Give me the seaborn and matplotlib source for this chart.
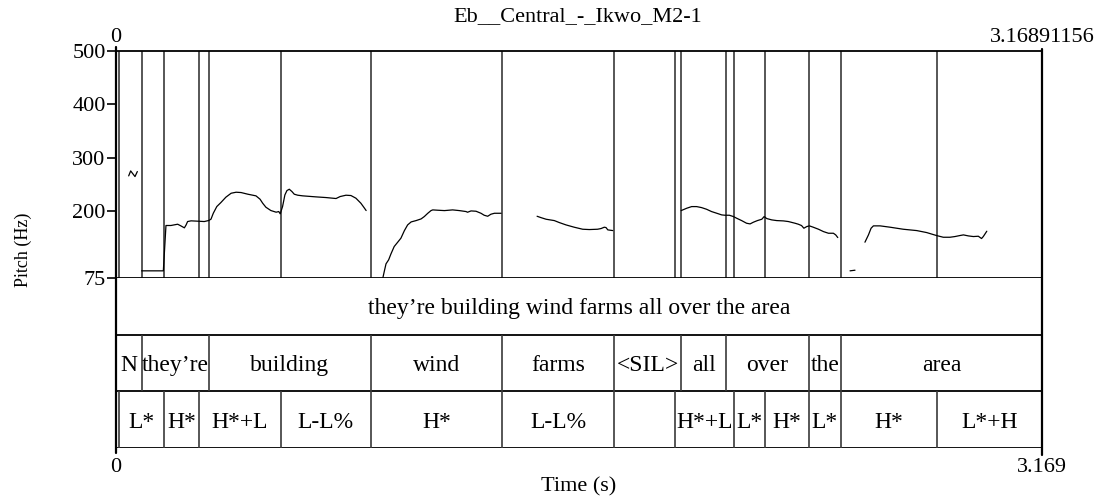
import numpy as np
import pandas as pd
import matplotlib
matplotlib.use("Agg")
import matplotlib.pyplot as plt
from matplotlib.lines import Line2D
import seaborn as sns

# ---- recording / annotation data -------------------------------------------
TITLE = "Eb__Central_-_Ikwo_M2-1"
DURATION = 3.16891156
F0_MIN, F0_MAX = 75, 500
F0_TICKS = [75, 200, 300, 400, 500]

SENTENCE = "they’re building wind farms all over the area"

word_bounds = [0.0, 0.0880, 0.3193, 0.8716, 1.3220, 1.7056, 1.9349,
               2.0862, 2.3712, 2.4807, DURATION]
word_labels = ["N", "they’re", "building", "wind", "farms", "<SIL>",
               "all", "over", "the", "area"]

tone_bounds = [0.0, 0.0113, 0.1653, 0.2840, 0.5636, 0.8716, 1.3220, 1.7056,
               1.9127, 2.1149, 2.2224, 2.3712, 2.4807, 2.8079, DURATION]
tone_labels = ["", "L*", "H*", "H*+L", "L-L%", "H*", "L-L%", "",
               "H*+L", "L*", "H*", "L*", "H*", "L*+H"]

# pitch contour, one voiced stretch per list (time in s, F0 in Hz)
blip_t = [0.0434, 0.0502, 0.0650, 0.0730]
blip_hz = [266.2, 275.5, 264.9, 274.3]

building_t = [0.0878, 0.162, 0.171, 0.188, 0.211, 0.222, 0.234, 0.240, 0.245,
              0.257, 0.279, 0.302, 0.317, 0.325, 0.333, 0.345, 0.359, 0.376,
              0.394, 0.411, 0.428, 0.451, 0.479, 0.493, 0.502, 0.513, 0.530,
              0.548, 0.557, 0.562, 0.570, 0.578, 0.585, 0.593, 0.602, 0.610,
              0.622, 0.639, 0.684, 0.719, 0.753, 0.767, 0.787, 0.804, 0.821,
              0.838, 0.848, 0.856]
building_hz = [88.4, 88.4, 173.3, 173.3, 175.7, 172.6, 168.9, 174.5, 180.7,
               182.0, 181.4, 180.7, 182.6, 185.1, 196.3, 208.8, 216.3, 226.3,
               233.7, 235.6, 235.0, 231.9, 228.8, 222.5, 215.0, 207.5, 201.3,
               198.2, 199.4, 195.1, 208.8, 230.6, 238.7, 241.2, 236.9, 231.9,
               230.0, 228.8, 226.9, 225.6, 223.8, 227.5, 230.0, 229.4, 224.4,
               215.0, 207.5, 201.3]

wind_t = [0.913, 0.918, 0.924, 0.933, 0.941, 0.952, 0.964, 0.975, 0.987,
          0.998, 1.010, 1.027, 1.044, 1.055, 1.067, 1.078, 1.084, 1.101,
          1.124, 1.152, 1.175, 1.198, 1.203, 1.215, 1.232, 1.249, 1.260,
          1.272, 1.283, 1.295, 1.318]
wind_hz = [74.6, 87.1, 101.5, 109.0, 120.2, 133.9, 142.0, 149.5, 163.8,
           174.4, 180.0, 182.5, 185.6, 190.0, 196.2, 201.2, 202.5, 201.9,
           201.2, 202.5, 201.2, 199.4, 198.1, 200.6, 200.0, 196.2, 192.5,
           190.6, 194.4, 196.2, 196.2]

farms_t = [1.441, 1.454, 1.472, 1.500, 1.517, 1.540, 1.568, 1.597, 1.620,
           1.648, 1.660, 1.671, 1.677, 1.683, 1.700]
farms_hz = [190.6, 188.1, 185.0, 182.5, 178.8, 174.4, 170.1, 166.3, 165.7,
            166.3, 167.6, 170.1, 169.4, 165.1, 163.8]

all_over_t = [1.934, 1.953, 1.970, 1.987, 2.004, 2.021, 2.038, 2.056, 2.073,
              2.084, 2.099, 2.113, 2.124, 2.141, 2.158, 2.170, 2.181, 2.195,
              2.210, 2.218, 2.227, 2.244, 2.261, 2.284, 2.301, 2.324, 2.335,
              2.346, 2.354, 2.364, 2.373, 2.386, 2.404, 2.421, 2.438, 2.455,
              2.463, 2.470]
all_over_hz = [201.2, 205.6, 208.7, 208.7, 206.8, 203.7, 199.4, 196.2, 193.1,
               192.5, 192.5, 190.0, 186.9, 182.5, 177.5, 176.3, 179.4, 182.5,
               185.0, 190.0, 186.3, 183.8, 182.5, 181.9, 180.7, 177.5, 175.7,
               173.2, 168.2, 171.3, 172.6, 170.1, 166.3, 161.9, 158.8, 158.8,
               155.7, 150.7]

creak_t = [2.512, 2.529]
creak_hz = [88.4, 89.6]

area_t = [2.563, 2.575, 2.584, 2.592, 2.615, 2.649, 2.694, 2.740, 2.774,
          2.808, 2.831, 2.854, 2.871, 2.888, 2.900, 2.917, 2.934, 2.951,
          2.962, 2.968, 2.980]
area_hz = [142.0, 155.7, 168.2, 172.6, 172.6, 170.1, 166.3, 163.8, 160.1,
           154.5, 151.3, 151.3, 152.6, 154.5, 155.7, 153.8, 152.6, 153.2,
           148.9, 152.6, 162.6]

segments = [(blip_t, blip_hz), (building_t, building_hz), (wind_t, wind_hz),
            (farms_t, farms_hz), (all_over_t, all_over_hz),
            (creak_t, creak_hz), (area_t, area_hz)]

# ---- styling -----------------------------------------------------------------
sns.set_theme(style="white")
plt.rcParams["font.family"] = ["Liberation Serif", "DejaVu Serif"]
FS = 16          # axis numbers, title, axis label
FS_TIER = 17     # tier annotations
INK = "black"
GRID_INK = "#3a3a3a"

W_PX, H_PX = 1113, 500
x0, x1 = 116, 1042          # frame left / right (px)
y_top, y_pitch, y_bot = 51, 278, 448

fig = plt.figure(figsize=(W_PX / 100, H_PX / 100), dpi=100)
L = x0 / W_PX
W = (x1 - x0) / W_PX
ax_p = fig.add_axes([L, 1 - y_pitch / H_PX, W, (y_pitch - y_top) / H_PX])
ax_t = fig.add_axes([L, 1 - y_bot / H_PX, W, (y_bot - y_pitch) / H_PX])

# ---- pitch panel -------------------------------------------------------------
df = pd.concat(
    [pd.DataFrame({"time": t, "pitch": hz, "seg": i})
     for i, (t, hz) in enumerate(segments)],
    ignore_index=True)
sns.lineplot(data=df, x="time", y="pitch", units="seg", estimator=None,
             sort=False, color=INK, lw=0.9, ax=ax_p, legend=False)

all_bounds = sorted(set(word_bounds[1:-1]) | set(tone_bounds[1:-1]))
ax_p.vlines(all_bounds, F0_MIN, F0_MAX, color=GRID_INK, lw=1.2, zorder=1)

ax_p.set_xlim(0, DURATION)
ax_p.set_ylim(F0_MIN, F0_MAX)
ax_p.set_yticks(F0_TICKS)
ax_p.set_yticklabels([str(v) for v in F0_TICKS])
ax_p.tick_params(axis="y", left=True, direction="out", length=6.5, width=1.2,
                 color=INK, pad=1, labelsize=FS, labelcolor=INK)
ax_p.set_xticks([0, DURATION])
ax_p.set_xticklabels(["0", "3.16891156"])
ax_p.tick_params(axis="x", top=True, labeltop=True, bottom=False,
                 labelbottom=False, length=0, pad=3, labelsize=FS,
                 labelcolor=INK)
ax_p.set_xlabel("")
ax_p.set_ylabel("Pitch (Hz)", fontsize=13, color=INK, va="center")
ax_p.yaxis.set_label_coords((23 - x0) / (x1 - x0),
                            (y_pitch - 250) / (y_pitch - y_top))
for side in ("left", "right"):
    ax_p.spines[side].set_visible(False)
for side in ("top", "bottom"):
    ax_p.spines[side].set_color(INK)
    ax_p.spines[side].set_linewidth(1.3)

# ---- annotation tiers ------------------------------------------------------------
ax_t.set_xlim(0, DURATION)
ax_t.set_ylim(0, 3)
for s in ax_t.spines.values():
    s.set_visible(False)
for yy in (0, 1, 2):
    ax_t.axhline(yy, color=INK, lw=1.3)

ax_t.text(DURATION / 2, 2.5, SENTENCE, ha="center", va="center_baseline",
          fontsize=FS_TIER, color=INK)

ax_t.vlines(word_bounds[1:-1], 1, 2, color=GRID_INK, lw=1.2)
for a, b, lab in zip(word_bounds[:-1], word_bounds[1:], word_labels):
    ax_t.text((a + b) / 2, 1.5, lab, ha="center", va="center_baseline",
              fontsize=FS_TIER, color=INK)

ax_t.vlines(tone_bounds[1:-1], 0, 1, color=GRID_INK, lw=1.2)
for a, b, lab in zip(tone_bounds[:-1], tone_bounds[1:], tone_labels):
    if lab:
        ax_t.text((a + b) / 2, 0.5, lab, ha="center", va="center_baseline",
                  fontsize=FS_TIER, color=INK)

ax_t.set_yticks([])
ax_t.set_xticks([0, DURATION])
ax_t.set_xticklabels(["0", "3.169"])
ax_t.tick_params(axis="x", bottom=True, length=0, pad=7, labelsize=FS,
                 labelcolor=INK)
ax_t.set_xlabel("Time (s)", fontsize=FS, color=INK, labelpad=0.5)

# outer vertical frame lines, running slightly past the top and bottom
fig.add_artist(Line2D([L, L], [1 - 453 / H_PX, 1 - 47 / H_PX],
                      transform=fig.transFigure, color=INK, lw=1.6))
fig.add_artist(Line2D([L + W, L + W], [1 - 455 / H_PX, 1 - 49 / H_PX],
                      transform=fig.transFigure, color=INK, lw=1.6))

fig.suptitle(TITLE, x=(431 + 725) / 2 / W_PX, y=1 - 17 / H_PX, va="center",
             fontsize=FS, color=INK)

fig.savefig("out.png", dpi=100)
